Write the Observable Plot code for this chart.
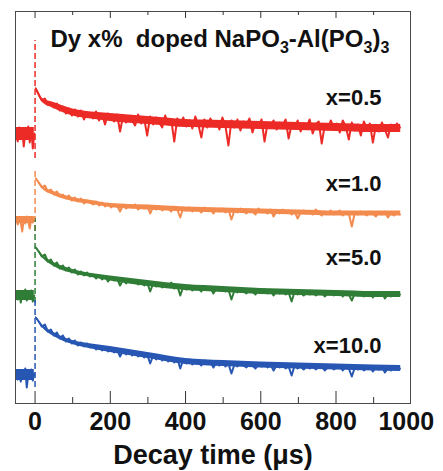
<!DOCTYPE html>
<html>
<head>
<meta charset="utf-8">
<script src="https://cdn.jsdelivr.net/npm/d3@7"></script>
<script src="https://cdn.jsdelivr.net/npm/@observablehq/plot@0.6"></script>
<style>
  html, body { margin: 0; padding: 0; background: #fff; }
</style>
</head>
<body>
<div id="chart"></div>
<script>
// ---- data (intensity in arbitrary units, traces offset) ----
const series = ["x=0.5", "x=1.0", "x=5.0", "x=10.0"];
const colors = ["#ec2a26", "#f38b4e", "#2f7d36", "#2756b3"];

const preTimes = [-50, -46, -42, -38, -34, -30, -26, -22, -18, -14, -10, -6, -2];
const postTimes = [
  2, 10, 18, 26, 34, 42, 50, 58, 66, 74,
  82, 90, 98, 106, 114, 122, 130, 138, 146, 154,
  162, 170, 178, 186, 194, 202, 210, 218, 226, 234,
  242, 250, 258, 266, 274, 282, 290, 298, 306, 314,
  322, 330, 338, 346, 354, 362, 370, 378, 386, 394,
  402, 410, 418, 426, 434, 442, 450, 458, 466, 474,
  482, 490, 498, 506, 514, 522, 530, 538, 546, 554,
  562, 570, 578, 586, 594, 602, 610, 618, 626, 634,
  642, 650, 658, 666, 674, 682, 690, 698, 706, 714,
  722, 730, 738, 746, 754, 762, 770, 778, 786, 794,
  802, 810, 818, 826, 834, 842, 850, 858, 866, 874,
  882, 890, 898, 906, 914, 922, 930, 938, 946, 954,
  962, 970
];

const prex05 = [270, 262, 276, 265, 273, 257, 271, 266, 277, 261, 274, 255, 270];
const postx05 = [
  315, 309, 303, 305, 299, 301, 296, 300, 293, 297,
  290, 295, 288, 294, 287, 293, 284, 291, 289, 285,
  292, 283, 289, 279, 290, 286, 282, 289, 272, 288,
  281, 287, 283, 278, 289, 280, 285, 268, 287, 279,
  286, 281, 276, 288, 279, 284, 262, 285, 278, 286,
  277, 283, 275, 287, 279, 266, 284, 276, 285, 279,
  282, 274, 286, 278, 258, 283, 276, 284, 273, 282,
  279, 285, 271, 281, 277, 284, 262, 280, 276, 283,
  274, 281, 278, 284, 265, 279, 275, 283, 272, 280,
  277, 284, 270, 279, 282, 260, 278, 274, 283, 276,
  280, 271, 283, 277, 264, 281, 273, 279, 268, 282,
  275, 280, 261, 278, 272, 281, 274, 266, 279, 273,
  280, 276
];

const prex10 = [184, 179, 186, 181, 172, 185, 180, 187, 182, 175, 185, 181, 186];
const postx10 = [
  225, 221, 216, 218, 212, 214, 209, 212, 207, 209,
  205, 208, 203, 206, 202, 205, 200, 203, 201, 199,
  202, 198, 201, 197, 200, 196, 199, 198, 192, 199,
  195, 198, 196, 199, 194, 197, 195, 198, 190, 197,
  194, 197, 193, 196, 195, 192, 197, 194, 186, 196,
  193, 196, 192, 195, 194, 191, 196, 193, 195, 190,
  194, 192, 195, 191, 194, 184, 193, 191, 195, 192,
  190, 194, 192, 189, 195, 191, 193, 190, 194, 187,
  192, 190, 194, 191, 193, 189, 192, 185, 191, 193,
  190, 192, 189, 194, 191, 188, 192, 190, 193, 189,
  191, 193, 188, 192, 190, 177, 191, 189, 192, 190,
  188, 192, 190, 187, 191, 189, 192, 186, 190, 188,
  191, 189
];

const prex50 = [109, 104, 112, 101, 110, 106, 114, 103, 111, 107, 113, 102, 108];
const postx50 = [
  156, 152, 147, 149, 142, 144, 138, 141, 135, 138,
  133, 136, 131, 134, 129, 132, 128, 131, 127, 129,
  125, 128, 124, 127, 122, 126, 123, 125, 118, 124,
  120, 124, 121, 123, 119, 122, 118, 121, 112, 120,
  117, 120, 116, 119, 117, 121, 115, 118, 108, 117,
  114, 118, 113, 116, 115, 112, 117, 114, 116, 110,
  115, 113, 116, 112, 114, 104, 113, 111, 115, 112,
  110, 114, 112, 109, 113, 111, 114, 110, 113, 108,
  112, 110, 113, 109, 111, 102, 112, 109, 111, 108,
  111, 109, 112, 108, 110, 111, 107, 110, 112, 108,
  110, 112, 107, 111, 109, 103, 110, 108, 111, 107,
  109, 111, 106, 110, 108, 111, 105, 109, 107, 110,
  108, 109
];

const prex100 = [30, 24, 33, 22, 31, 27, 35, 16, 29, 25, 34, 23, 30];
const postx100 = [
  86, 82, 77, 79, 72, 74, 68, 71, 65, 68,
  62, 65, 60, 63, 58, 61, 57, 60, 56, 58,
  54, 57, 53, 56, 52, 55, 51, 54, 47, 53,
  49, 53, 48, 51, 47, 50, 46, 49, 40, 48,
  44, 48, 43, 47, 42, 46, 41, 45, 35, 44,
  40, 44, 39, 43, 41, 38, 43, 40, 42, 36,
  41, 38, 42, 37, 40, 30, 39, 37, 41, 38,
  36, 40, 38, 35, 39, 37, 40, 36, 39, 33,
  38, 36, 39, 35, 37, 28, 38, 35, 37, 34,
  37, 35, 38, 34, 36, 37, 33, 36, 38, 34,
  36, 38, 33, 37, 35, 27, 36, 34, 37, 33,
  35, 37, 32, 36, 34, 37, 31, 35, 33, 36,
  34, 35
];

// dense-noise core band (upper / lower envelope of the trace)
const envPreTimes = [-50, -2];
const envTimes = [2, 20, 50, 100, 150, 200, 300, 400, 500, 600, 700, 800, 900, 972];
const preHi = [276, 187, 113, 34];
const preLo = [263, 180, 103, 23];
const hix05 = [316.5, 305, 301, 294.5, 291.5, 290, 287, 284, 283, 282, 281, 280, 279, 279];
const lox05 = [313.5, 301, 295, 287.5, 284.5, 282, 279, 276, 275, 274, 273, 272, 271, 271];
const hix10 = [226, 217.5, 212, 206, 203, 200, 198.5, 196.5, 195.5, 194.5, 193.5, 192.5, 192.5, 192.5];
const lox10 = [224, 214.5, 208, 202, 199, 196, 193.5, 191.5, 190.5, 189.5, 188.5, 187.5, 187.5, 187.5];
const hix50 = [157, 148.5, 141, 134, 130, 127.5, 123, 119, 117, 115, 114, 113, 112, 112];
const lox50 = [155, 145.5, 137, 130, 126, 122.5, 117, 113, 111, 109, 108, 107, 106, 106];
const hix100 = [87, 78.5, 71, 63, 59.5, 57, 51, 45, 43, 41.5, 40.5, 39.5, 38.5, 38];
const lox100 = [85, 75.5, 67, 59, 54.5, 51, 45, 39, 37, 35.5, 34.5, 33.5, 32.5, 32];

// excitation rise at t = 0 (dashed): from level to peak
const riseFrom = [245, 172, 100, 16];
const risePeak = [363, 233, 185, 105];
// label levels (same arbitrary units)
const labelLevels = [306, 220, 146, 58];

const majorTicks = [0, 200, 400, 600, 800, 1000];
const minorTicks = [100, 300, 500, 700, 900];
const tickLabels = ["0", "200", "400", "600", "800", "1000"];

const titleText = "Dy x%  doped NaPO3-Al(PO3)3";
const xLabel = "Decay time (\u03bcs)";

// ---- build tables ----
const preSets = [prex05, prex10, prex50, prex100];
const postSets = [postx05, postx10, postx50, postx100];
const hiSets = [hix05, hix10, hix50, hix100];
const loSets = [lox05, lox10, lox50, lox100];
const rows = [];
const env = [];
series.forEach((s, i) => {
  preTimes.forEach((t, j) => rows.push({series: s, key: s + "-pre", t, v: preSets[i][j]}));
  postTimes.forEach((t, j) => rows.push({series: s, key: s + "-post", t, v: postSets[i][j]}));
  envPreTimes.forEach(t => env.push({series: s, key: s + "-pre", t, lo: preLo[i], hi: preHi[i]}));
  envTimes.forEach((t, j) => env.push({series: s, key: s + "-post", t, lo: loSets[i][j], hi: hiSets[i][j]}));
});
const idx = series.map((_, i) => i);

const font = "'Liberation Sans', Arial, Helvetica, sans-serif";

const chart = Plot.plot({
  width: 443,
  height: 471,
  marginLeft: 15,
  marginRight: 33,
  marginTop: 11,
  marginBottom: 68,
  x: {domain: [-52, 998], axis: null},
  y: {domain: [0, 392], axis: null},
  color: {domain: series, range: colors},
  style: {fontFamily: font, background: "#fff", color: "#111"},
  marks: [
    Plot.ruleX(idx, {x: () => 0, y1: i => riseFrom[i], y2: i => risePeak[i], stroke: i => series[i], strokeWidth: 1.5, strokeDasharray: "6,3"}),
    Plot.areaY(env, {x: "t", y1: "lo", y2: "hi", z: "key", fill: "series", curve: "monotone-x"}),
    Plot.lineY(rows, {x: "t", y: "v", z: "key", stroke: "series", strokeWidth: 2}),
    Plot.frame({stroke: "#4a4a4a", strokeWidth: 1}),
    Plot.ruleX(majorTicks.slice(0, 5), {x: d => d, insetTop: 380, stroke: "#333"}),
    Plot.ruleX(minorTicks, {x: d => d, insetTop: 386, stroke: "#333"}),
    Plot.ruleX(majorTicks.slice(0, 5), {x: d => d, insetBottom: 385, stroke: "#333"}),
    Plot.ruleX(minorTicks, {x: d => d, insetBottom: 388, stroke: "#333"}),
    Plot.text(majorTicks.slice(0, 5), {x: d => d, text: (d, i) => tickLabels[i], frameAnchor: "bottom", lineAnchor: "middle", dy: 18, fontSize: 25, fontWeight: "bold", fill: "#111"}),
    Plot.text([majorTicks[5]], {x: d => d, text: () => tickLabels[5], frameAnchor: "bottom", lineAnchor: "middle", dy: 18, dx: -5, fontSize: 25, fontWeight: "bold", fill: "#111"}),
    Plot.text([xLabel], {text: d => d, frameAnchor: "bottom", lineAnchor: "middle", dy: 52, fontSize: 27, fontWeight: "bold", fill: "#111"}),
    Plot.text(idx, {y: i => labelLevels[i], text: i => series[i], frameAnchor: "right", lineAnchor: "middle", textAnchor: "end", dx: -29, fontSize: 22, fontWeight: "bold", fill: "#111"}),
    Plot.text([titleText], {text: d => d, frameAnchor: "top-left", lineAnchor: "middle", textAnchor: "start", dx: 35, dy: 28, fontSize: 24, fontWeight: "bold", fill: "#111"})
  ]
});
document.getElementById("chart").appendChild(chart);

// render the chemical formula with true subscripts
d3.select(chart).selectAll("text").each(function() {
  if (this.textContent === titleText) {
    const t = d3.select(this);
    t.text(null).style("white-space", "pre");
    const parts = [["Dy x%  doped NaPO", false], ["3", true], ["-Al(PO", false], ["3", true], [")", false], ["3", true]];
    let sub = false;
    parts.forEach(([txt, isSub]) => {
      const sp = t.append("tspan").text(txt);
      if (isSub) sp.attr("font-size", 16);
      if (isSub && !sub) { sp.attr("dy", 6); sub = true; }
      else if (!isSub && sub) { sp.attr("dy", -6); sub = false; }
    });
  }
});
</script>
</body>
</html>
